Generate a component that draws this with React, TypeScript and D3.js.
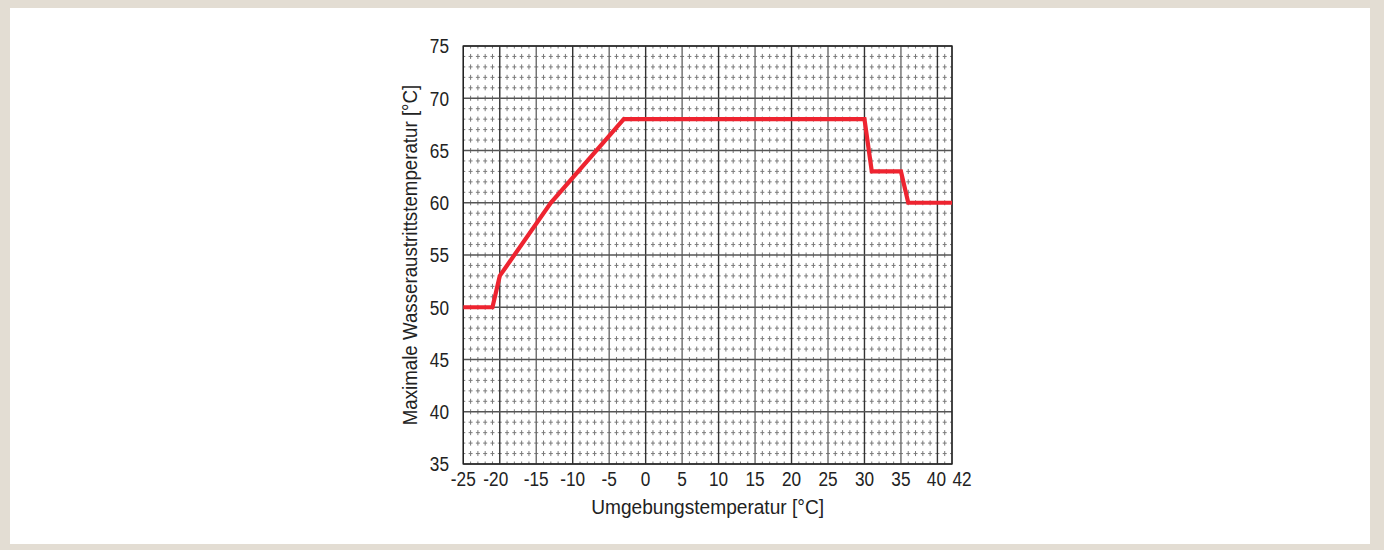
import React from "react";
import * as d3 from "d3";

const xTicks = [-25, -20, -15, -10, -5, 0, 5, 10, 15, 20, 25, 30, 35, 40, 42];
const yTicks = [35, 40, 45, 50, 55, 60, 65, 70, 75];
const lineX = [-25, -21, -20, -13, -3, 30, 31, 35, 36, 42];
const lineY = [50, 50, 53, 60, 68, 68, 63, 63, 60, 60];
const xTitle = "Umgebungstemperatur [°C]";
const yTitle = "Maximale Wasseraustrittstemperatur [°C]";

const W = 1384;
const H = 550;
const FONT = "'Liberation Sans', Arial, sans-serif";

function Label(props: { x: number; y: number; anchor: string; text: string | number; size: number; sx: number; dy?: string }) {
  return (
    <g transform={`translate(${props.x},${props.y}) scale(${props.sx},1)`}>
      <text x={0} y={0} dy={props.dy || "0"} textAnchor={props.anchor} fontSize={props.size}>
        {props.text}
      </text>
    </g>
  );
}

export default function App() {
  const x = d3.scaleLinear().domain([-25, 42]).range([463.3, 952]);
  const y = d3.scaleLinear().domain([35, 75]).range([464, 46]);
  const minorX = d3.range(-25, 43, 1).filter((v) => v % 5 !== 0 && v !== 42);
  const minorY = d3.range(35, 76, 1).filter((v) => v % 5 !== 0);
  const stepX = x(1) - x(0);
  const stepY = y(0) - y(1);
  const dV = 5;
  const dH = 4;
  const pts: [number, number][] = lineX.map((v, i) => [v, lineY[i]]);
  const line = d3
    .line<[number, number]>()
    .x((d) => x(d[0]))
    .y((d) => y(d[1]));
  const [x0, x1] = x.range();
  const [y0, y1] = y.range();
  return (
    <svg width={W} height={H} style={{ position: "absolute", left: 0, top: 0 }}>
      <rect x={0} y={0} width={W} height={H} fill="#e3ddd3" />
      <rect x={10} y={8} width={1360} height={536} fill="#ffffff" />
      <g>
        {minorX.map((v) => (
          <line
            key={"mx" + v}
            x1={x(v)}
            x2={x(v)}
            y1={y1}
            y2={y0}
            stroke="#7a7a7a"
            strokeWidth={1}
            strokeDasharray={`${dV} ${stepY - dV}`}
            strokeDashoffset={dV / 2}
          />
        ))}
        {minorY.map((v) => (
          <line
            key={"my" + v}
            x1={x0}
            x2={x1}
            y1={y(v)}
            y2={y(v)}
            stroke="#7a7a7a"
            strokeWidth={1}
            strokeDasharray={`${dH} ${stepX - dH}`}
            strokeDashoffset={dH / 2}
          />
        ))}
        {xTicks.map((v) => (
          <line key={"Mx" + v} x1={x(v)} x2={x(v)} y1={y1} y2={y0} stroke={v % 10 === 0 ? "#333" : "#6a6a6a"} strokeWidth={1.4} />
        ))}
        {yTicks.map((v) => (
          <line key={"My" + v} x1={x0} x2={x1} y1={y(v)} y2={y(v)} stroke="#555" strokeWidth={1.4} />
        ))}
        <rect x={x0} y={y1} width={x1 - x0} height={y0 - y1} fill="none" stroke="#222" strokeWidth={1.4} />
      </g>
      <path d={line(pts) || ""} fill="none" stroke="#ee2430" strokeWidth={4.2} strokeLinejoin="miter" />
      <g fontFamily={FONT} fill="#222">
        {yTicks.map((v) => (
          <Label key={"yt" + v} x={449} y={y(v)} dy="0.36em" anchor="end" text={v} size={20.5} sx={0.84} />
        ))}
        {xTicks.map((v) => (
          <Label
            key={"xt" + v}
            x={v === 42 ? x(v) + 0.5 : v === 40 ? x(v) - 1 : v === -20 ? x(v) - 4 : x(v)}
            y={486}
            anchor={v === 42 ? "start" : "middle"}
            text={v}
            size={20.5}
            sx={0.84}
          />
        ))}
        <Label x={(x0 + x1) / 2} y={514} anchor="middle" text={xTitle} size={19.5} sx={0.98} />
        <g transform={`translate(417, ${(y0 + y1) / 2}) rotate(-90)`}>
          <Label x={0} y={0} anchor="middle" text={yTitle} size={19.5} sx={0.96} />
        </g>
      </g>
    </svg>
  );
}
